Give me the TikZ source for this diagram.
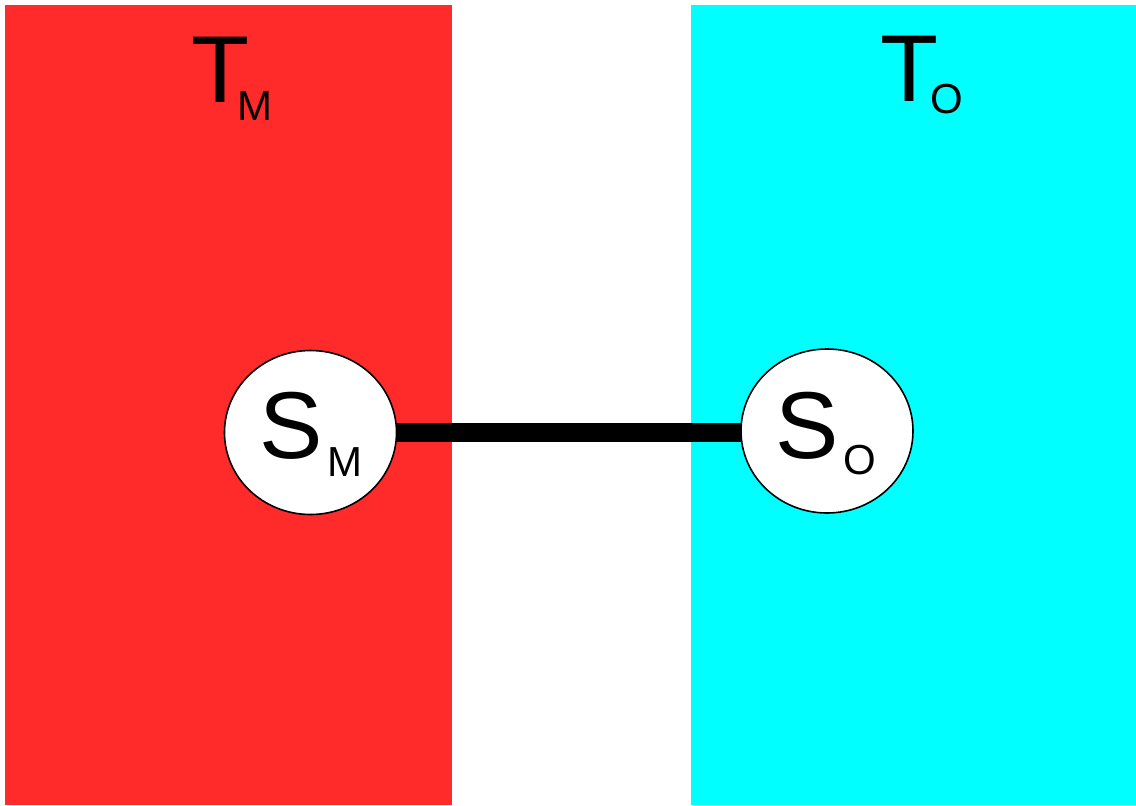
\documentclass[tikz,border=0pt]{standalone}
\usepackage{fontspec}
\setmainfont{Liberation Sans}
\usetikzlibrary{shapes.geometric,backgrounds}
\definecolor{mred}{HTML}{FF2A2A}
\definecolor{mcyan}{HTML}{00FFFF}
\begin{document}
\begin{tikzpicture}[x=1pt,y=-1pt,
  disc/.style={ellipse,draw=black,line width=1.6pt,fill=white,minimum width=172pt,minimum height=164pt,inner sep=0pt},
  big/.style={inner sep=0pt,outer sep=0pt,font=\fontsize{95}{95}\selectfont},
  small/.style={inner sep=0pt,outer sep=0pt,font=\fontsize{42}{42}\selectfont},
  link/.style={line width=19pt}]
\useasboundingbox (0,0) rectangle (1136,806);
\node[disc] (sm) at (310.5,432.5) {};
\node[disc] (so) at (827,431) {};
\begin{scope}[on background layer]
\fill[mred] (5,5) rectangle (452,805);
\fill[mcyan] (691,5) rectangle (1136,805);
\draw[link] (sm.center) -- (sm.center -| so.center);
\end{scope}
% labels
\node[big,anchor=base west] (ts) at (259.5,458) {S};
\node[small,anchor=base west] (tm) at (327,476) {M};
\node[big,anchor=base west] (os) at (775.5,458) {S};
\node[small,anchor=base west] (om) at (843,474) {O};
\node[big,anchor=base west] (tt) at (191,102) {T};
\node[small,anchor=base west] (ttm) at (237,120) {M};
\node[big,anchor=base west] (ot) at (880,101) {T};
\node[small,anchor=base west] (oto) at (930,113) {O};
\end{tikzpicture}
\end{document}
